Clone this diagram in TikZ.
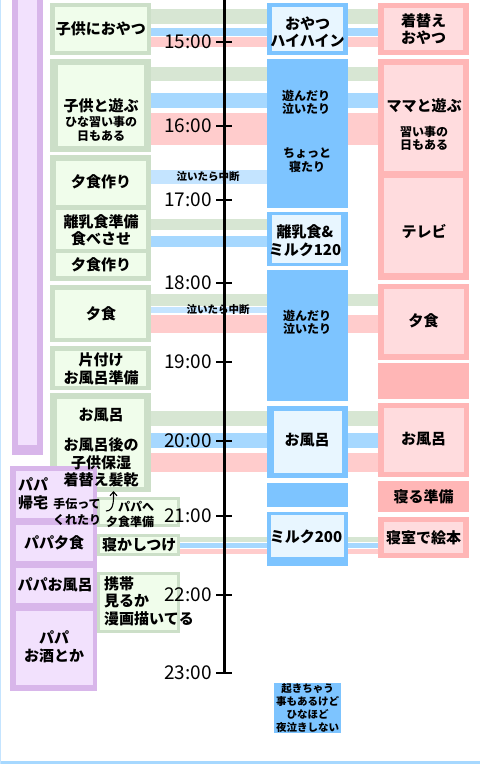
\documentclass[tikz,border=0pt]{standalone}
\usepackage{fontspec}
\newfontfamily\jp{Noto Sans CJK JP}
\usetikzlibrary{arrows.meta}
\definecolor{grnframe}{HTML}{CCDFC8}
\definecolor{grnfill}{HTML}{F0FDEB}
\definecolor{grnband}{HTML}{D7E6D3}
\definecolor{bluframe}{HTML}{7DC4FF}
\definecolor{blufill}{HTML}{E8F6FF}
\definecolor{bluband}{HTML}{A6D8FF}
\definecolor{cryband}{HTML}{C4E4FF}
\definecolor{pnkframe}{HTML}{FFB6B6}
\definecolor{pnkfill}{HTML}{FFDCDE}
\definecolor{pnkband}{HTML}{FFCCCC}
\definecolor{purframe}{HTML}{D8B6EA}
\definecolor{purfill}{HTML}{F2E1FD}
\tikzset{
  boxtxt/.style={font=\jp\bfseries\fontsize{15}{17.5}\selectfont, align=center, inner sep=0pt},
  subtxt/.style={font=\jp\bfseries\fontsize{12}{13.5}\selectfont, align=center, inner sep=0pt},
  notetxt/.style={font=\jp\bfseries\fontsize{10.5}{13}\selectfont, align=center, inner sep=0pt},
  hourtxt/.style={font=\jp\fontsize{19}{19}\selectfont, inner sep=0pt, anchor=east},
}

\begin{document}
\begin{tikzpicture}[x=1pt, y=-1pt]

% Canvas
\useasboundingbox (0,0) rectangle (480,764);
\fill[white] (0,0) rectangle (480,764);
\fill[bluband] (0,761) rectangle (480,764);
\fill[cryband] (0,0) rectangle (1,764);

% Left purple bar
\fill[purframe] (12,0) rectangle (43,455);
\fill[purfill] (18,0) rectangle (37,445);

% ================================================================
% Bands between the columns
% ================================================================
% 15:00
\fill[grnband] (151,9) rectangle (378,24);
\fill[bluband] (151,28) rectangle (378,35.5);
\fill[pnkband] (151,37) rectangle (378,47);
% 16:00
\fill[grnband] (151,67) rectangle (378,81);
\fill[bluband] (151,93) rectangle (378,108);
\fill[pnkband] (151,113) rectangle (378,145);
% crying break
\fill[cryband] (151,170) rectangle (268,184);
% 17:00
\fill[grnband] (151,219) rectangle (267,230);
\fill[bluband] (151,236) rectangle (267,247);
% 18:00
\fill[grnband] (151,294) rectangle (378,306);
\fill[cryband] (151,307) rectangle (267,313);
\fill[pnkband] (151,315) rectangle (378,333);
% 20:00
\fill[grnband] (151,411) rectangle (378,426);
\fill[bluband] (151,433) rectangle (378,448);
\fill[pnkband] (151,453) rectangle (378,472);
% 21:00
\fill[grnband] (180,537) rectangle (378,542);
\fill[bluband] (180,543) rectangle (378,547.5);
\fill[pnkband] (180,549) rectangle (378,554);

\node[notetxt] (naki1) at (208,177) {泣いたら中断};
\node[notetxt] (naki2) at (218,310) {泣いたら中断};

% ================================================================
% Green column (me)
% ================================================================
\fill[grnframe] (50,3) rectangle (151,55);
\fill[grnfill] (55,7) rectangle (147,51);
\node[boxtxt] (oyatsu) at (101,29) {子供におやつ};

\fill[grnframe] (50,59) rectangle (151,152);
\fill[grnfill] (58,65) rectangle (144,146);
\node[boxtxt] (asobu) at (101,106) {子供と遊ぶ};
\node[subtxt] (naraigoto) at (101,129) {ひな習い事の\\日もある};

\fill[grnframe] (50,155) rectangle (151,281);
\fill[grnfill] (56,161) rectangle (146,205);
\fill[grnfill] (56,210) rectangle (146,249);
\fill[grnfill] (56,253) rectangle (146,276);
\node[boxtxt] (yushoku1) at (101,182) {夕食作り};
\node[boxtxt] (rinyu) at (101,230.5) {離乳食準備\\食べさせ};
\node[boxtxt] (yushoku2) at (101,265) {夕食作り};

\fill[grnframe] (50,285) rectangle (151,342);
\fill[grnfill] (55,290) rectangle (146,338);
\node[boxtxt] (yushoku3) at (101,314) {夕食};

\fill[grnframe] (50,346) rectangle (151,390);
\fill[grnfill] (55,351) rectangle (146,386);
\node[boxtxt] (katazuke) at (101,369) {片付け\\お風呂準備};

\fill[grnframe] (50,393) rectangle (151,492);
\fill[grnfill] (57,399) rectangle (144,487);

\fill[grnframe] (97,497) rectangle (180,527);
\fill[grnfill] (100,500) rectangle (177,524);

\fill[grnframe] (97,534) rectangle (180,556);
\fill[grnfill] (100,537) rectangle (177,553);
\node[boxtxt, anchor=west] (neka) at (102,545) {寝かしつけ};

\fill[grnframe] (97,572) rectangle (180,633);
\fill[grnfill] (100,575) rectangle (177,630);
\node[boxtxt, anchor=west, align=left] (keitai) at (104,601) {携帯\\見るか\\漫画描いてる};

% ================================================================
% Purple column (papa)
% ================================================================
\fill[purframe] (10,466) rectangle (97,691);
\fill[purfill] (16,471) rectangle (93,518);
\fill[purfill] (16,525) rectangle (93,561);
\fill[purfill] (16,568) rectangle (93,603);
\fill[purfill] (16,611) rectangle (93,685);
\node[boxtxt, anchor=west, align=left] (kitaku) at (18,494) {パパ\\帰宅};
\node[boxtxt] (papayu) at (54,543) {パパ夕食};
\node[boxtxt] (papafuro) at (55,585) {パパお風呂};
\node[boxtxt] (sake) at (54,647) {パパ\\お酒とか};

% bath text sits over the papa column
\node[boxtxt] (furo) at (101,415) {お風呂};
\node[boxtxt] (hoshitsu) at (101,462.5) {お風呂後の\\子供保湿\\着替え髪乾};
\node[subtxt] (tetsudai) at (77,511.5) {手伝って\\[2.5pt]くれたり};
\node[subtxt, anchor=west] (papahe) at (118,507) {パパへ};
\node[subtxt, anchor=west] (junbi) at (106,522) {夕食準備};
\coordinate (arrS) at (106,511);
\coordinate (arrE) at (113.5,491);
\draw[line width=1.1pt, -{Straight Barb[length=4pt, width=7pt]}] (arrS) to[out=0, in=-90] (arrE);

% ================================================================
% Blue column (baby)
% ================================================================
\fill[bluframe] (267,3) rectangle (348,55);
\fill[blufill] (272,7) rectangle (343,51);
\node[boxtxt] (hai) at (307.5,32) {おやつ\\ハイハイン};

\fill[bluframe] (267,59) rectangle (348,208);
\node[subtxt] (naki3) at (306,102.5) {遊んだり\\泣いたり};
\node[subtxt] (netari) at (307,160) {ちょっと\\寝たり};

\fill[bluframe] (267,212) rectangle (348,266);
\fill[blufill] (272,215) rectangle (341,263);
\node[boxtxt] (milk1) at (305,240.5) {離乳食\&\\ミルク120};

\fill[bluframe] (267,270) rectangle (348,401);
\node[subtxt] (naki4) at (307,322.5) {遊んだり\\泣いたり};

\fill[bluframe] (267,406) rectangle (348,478);
\fill[blufill] (274,411) rectangle (342,473);
\node[boxtxt] (bfuro) at (307,440) {お風呂};

\fill[bluframe] (267,483) rectangle (348,507);

\fill[bluframe] (267,512) rectangle (348,566);
\fill[blufill] (271,515) rectangle (344,557);
\node[boxtxt] (milk2) at (306,537) {ミルク200};

\fill[bluframe] (274,683) rectangle (341,733);
\node[notetxt] (yonaki) at (307.5,708) {起きちゃう\\事もあるけど\\ひなほど\\夜泣きしない};

% ================================================================
% Pink column (mama)
% ================================================================
\fill[pnkframe] (378,3) rectangle (469,55);
\fill[pnkfill] (384,8) rectangle (463,50);
\node[boxtxt] (kigae) at (423.5,29) {着替え\\おやつ};

\fill[pnkframe] (378,59) rectangle (469,280);
\fill[pnkfill] (384,65) rectangle (463,171);
\fill[pnkfill] (384,178) rectangle (463,273);
\node[boxtxt] (mama) at (424,106) {ママと遊ぶ};
\node[subtxt] (mnarai) at (424,138.5) {習い事の\\日もある};
\node[boxtxt] (terebi) at (424,232) {テレビ};

\fill[pnkframe] (378,284) rectangle (469,360);
\fill[pnkfill] (384,289) rectangle (464,354);
\node[boxtxt] (myushoku) at (423.5,321) {夕食};

\fill[pnkframe] (378,363) rectangle (469,399);

\fill[pnkframe] (378,403) rectangle (469,477);
\fill[pnkfill] (384,408) rectangle (464,472);
\node[boxtxt] (mfuro) at (423.5,439) {お風呂};

\fill[pnkframe] (378,481) rectangle (469,512);
\node[boxtxt] (neru) at (423.5,497) {寝る準備};

\fill[pnkframe] (378,517) rectangle (469,558);
\fill[pnkfill] (384,522) rectangle (463,553);
\node[boxtxt] (ehon) at (423.5,538) {寝室で絵本};

% ================================================================
% Time axis (on top)
% ================================================================
\draw[line width=3pt] (224,0) -- (224,673);
\foreach \t/\y in {15/42,16/126,17/200,18/283,19/362,20/441,21/516,22/595,23/673}{
  \draw[line width=2.5pt] (216,\y) -- (232,\y);
  \node[hourtxt] (h\t) at (212,\y) {\t:00};
}

\end{tikzpicture}
\end{document}
